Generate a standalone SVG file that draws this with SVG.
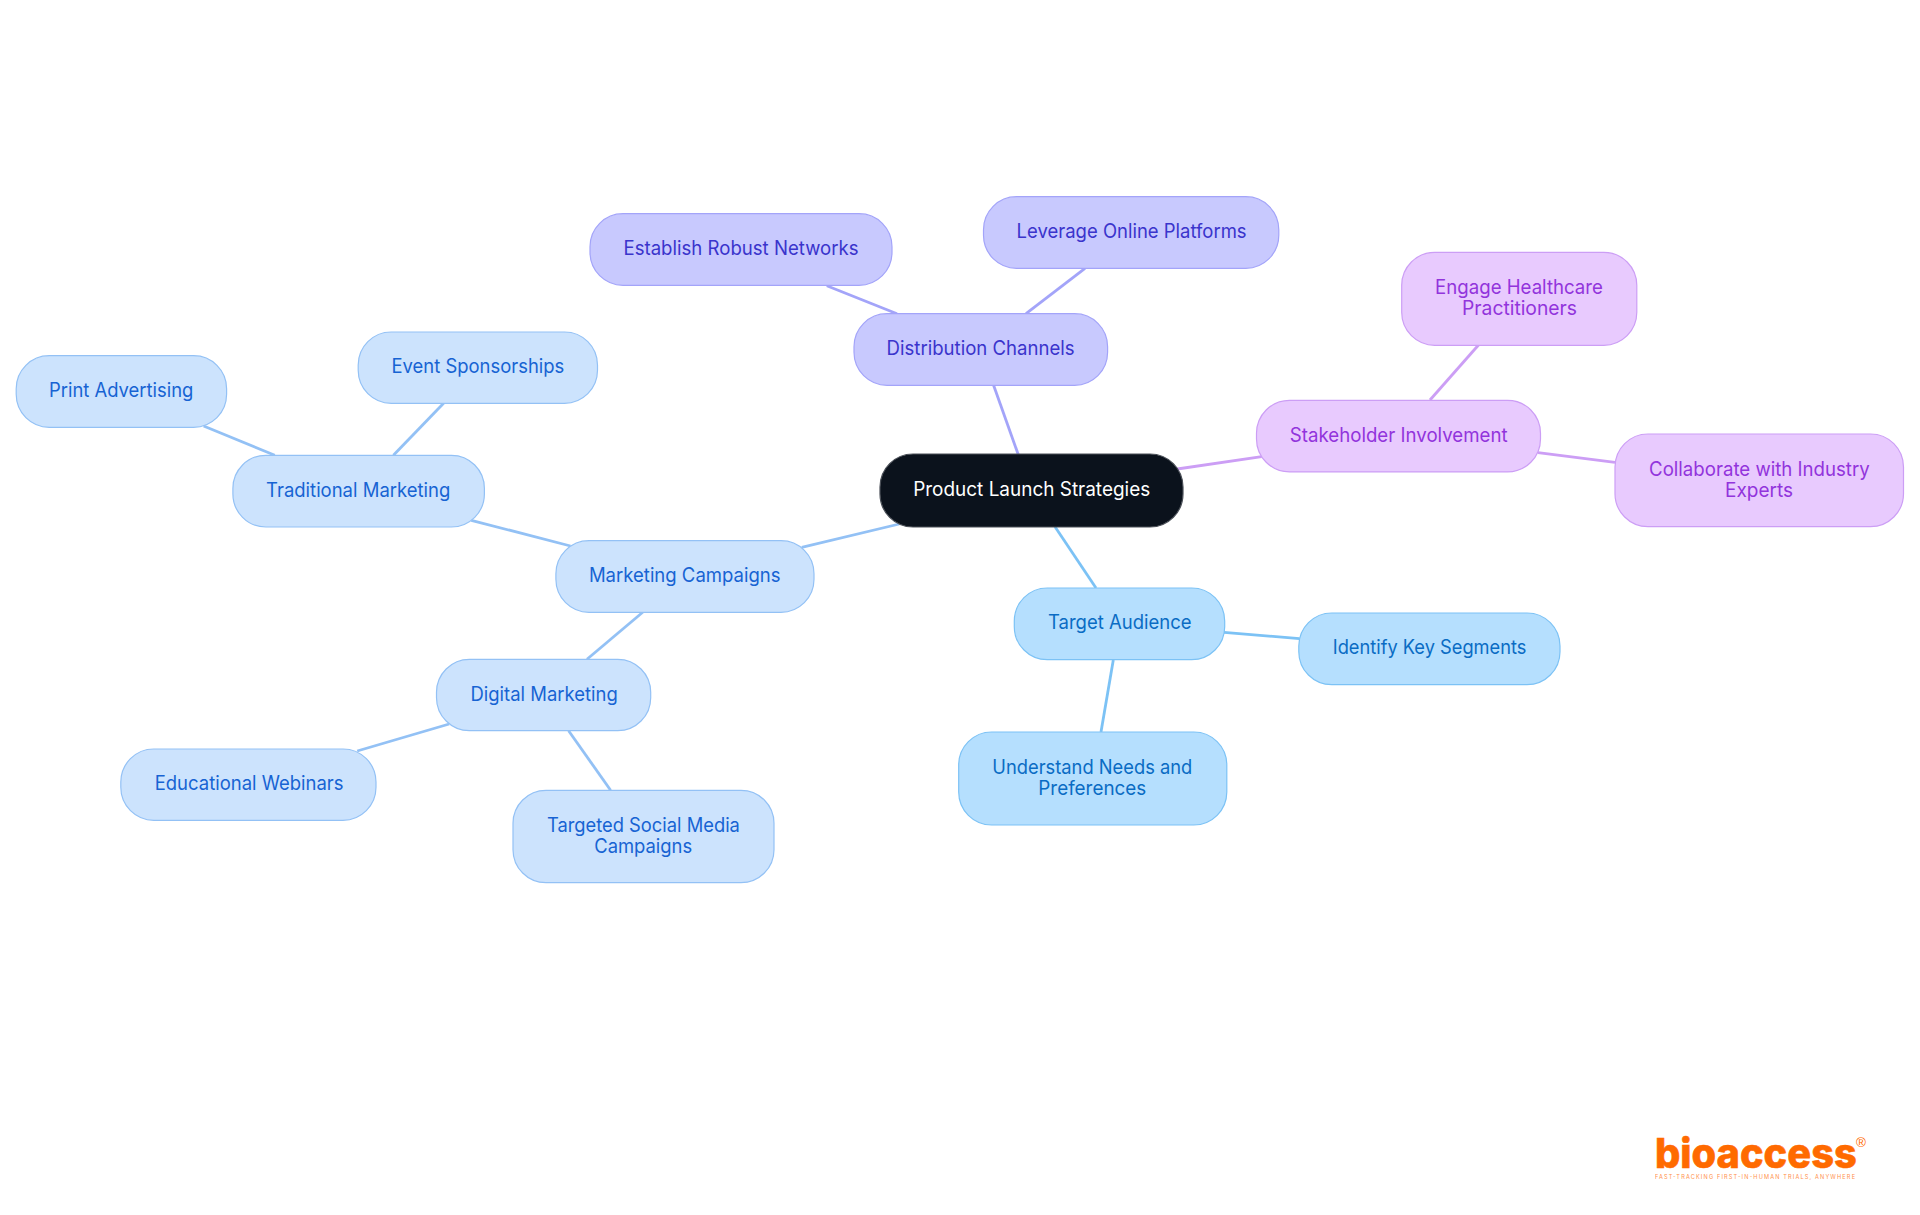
<svg xmlns="http://www.w3.org/2000/svg" width="1920" height="1215" viewBox="0 0 1920 1215">
<style>
text{font-family:"Inter","Noto Sans","Liberation Sans",sans-serif;font-size:19.6px;font-weight:400;text-anchor:middle}
rect{stroke-width:1.2}
#connectors line{stroke-width:2.8;fill:none}
.root rect{fill:#0b121c;stroke:#4a4f57}.root text{fill:#fff}
.mk rect{fill:#cce3fd;stroke:#93c1f5}.mk text{fill:#1763d3}
.ta rect{fill:#b5dffe;stroke:#7cc2f5}.ta text{fill:#0a6cc4}
.di rect{fill:#c8c9fe;stroke:#a3a4f9}.di text{fill:#3a34cc}
.st rect{fill:#e8cafe;stroke:#cc9ef5}.st text{fill:#9234dc}
line.mk{stroke:#93c1f5}line.ta{stroke:#7cc2f5}line.di{stroke:#a3a4f9}line.st{stroke:#cc9ef5}
#logo text{fill:#ff6a00;text-anchor:start}
</style>
<rect x="0" y="0" width="1920" height="1215" fill="#fff" style="stroke:none"/>
<g id="connectors">
<line class="di" x1="993.5" y1="385" x2="1018.4" y2="455"/>
<line class="di" x1="826.8" y1="285.7" x2="897" y2="313.7"/>
<line class="di" x1="1085" y1="268.3" x2="1026" y2="313.7"/>
<line class="st" x1="1177.3" y1="469" x2="1261.7" y2="456.7"/>
<line class="st" x1="1478.5" y1="345" x2="1430" y2="400"/>
<line class="st" x1="1538" y1="452.7" x2="1615" y2="462.3"/>
<line class="ta" x1="1055" y1="526.7" x2="1096" y2="588"/>
<line class="ta" x1="1224" y1="632.3" x2="1299.5" y2="638.7"/>
<line class="ta" x1="1113.3" y1="660" x2="1101" y2="732"/>
<line class="mk" x1="899.3" y1="524" x2="801.7" y2="547.3"/>
<line class="mk" x1="570.5" y1="546" x2="471.3" y2="520.3"/>
<line class="mk" x1="203.6" y1="426" x2="274.8" y2="455.3"/>
<line class="mk" x1="443.6" y1="403.3" x2="393.4" y2="455.3"/>
<line class="mk" x1="642.7" y1="612.3" x2="587" y2="659.3"/>
<line class="mk" x1="449.2" y1="724" x2="357.2" y2="751"/>
<line class="mk" x1="568.6" y1="730.7" x2="610.6" y2="790.3"/>
</g>
<g id="root" class="root"><rect x="880" y="454" width="303" height="73" rx="33"/><text x="1031.7" y="496" textLength="237" lengthAdjust="spacingAndGlyphs">Product Launch Strategies</text></g>
<g id="distribution-channels" class="di"><rect x="854" y="313.7" width="253.6" height="71.6" rx="33"/><text x="980.6" y="355" textLength="188" lengthAdjust="spacingAndGlyphs">Distribution Channels</text></g>
<g id="establish-robust-networks" class="di"><rect x="590" y="213.7" width="302" height="71.6" rx="33"/><text x="741" y="255" textLength="235" lengthAdjust="spacingAndGlyphs">Establish Robust Networks</text></g>
<g id="leverage-online-platforms" class="di"><rect x="983.5" y="196.7" width="295.3" height="71.6" rx="33"/><text x="1131.6" y="238" textLength="230" lengthAdjust="spacingAndGlyphs">Leverage Online Platforms</text></g>
<g id="stakeholder-involvement" class="st"><rect x="1256.5" y="400.3" width="284" height="71.6" rx="33"/><text x="1398.7" y="441.6" textLength="217.7" lengthAdjust="spacingAndGlyphs">Stakeholder Involvement</text></g>
<g id="engage-healthcare" class="st"><rect x="1401.7" y="252.3" width="235.1" height="93" rx="33"/><text x="1519" y="294" textLength="167.8" lengthAdjust="spacingAndGlyphs">Engage Healthcare</text><text x="1519.5" y="315" textLength="115" lengthAdjust="spacingAndGlyphs">Practitioners</text></g>
<g id="collaborate-experts" class="st"><rect x="1615" y="434" width="288.5" height="92.7" rx="33"/><text x="1759.4" y="475.5" textLength="220.7" lengthAdjust="spacingAndGlyphs">Collaborate with Industry</text><text x="1759" y="497" textLength="68" lengthAdjust="spacingAndGlyphs">Experts</text></g>
<g id="target-audience" class="ta"><rect x="1014.3" y="588" width="210.4" height="71.7" rx="33"/><text x="1119.8" y="629.3" textLength="143.7" lengthAdjust="spacingAndGlyphs">Target Audience</text></g>
<g id="identify-key-segments" class="ta"><rect x="1298.8" y="613" width="261.2" height="71.7" rx="33"/><text x="1429.6" y="654.3" textLength="193.7" lengthAdjust="spacingAndGlyphs">Identify Key Segments</text></g>
<g id="understand-needs" class="ta"><rect x="958.7" y="732" width="268.1" height="93" rx="33"/><text x="1092.3" y="773.5" textLength="200" lengthAdjust="spacingAndGlyphs">Understand Needs and</text><text x="1092.3" y="794.5" textLength="108" lengthAdjust="spacingAndGlyphs">Preferences</text></g>
<g id="marketing-campaigns" class="mk"><rect x="555.9" y="540.7" width="258.1" height="71.6" rx="33"/><text x="684.7" y="582" textLength="191.6" lengthAdjust="spacingAndGlyphs">Marketing Campaigns</text></g>
<g id="traditional-marketing" class="mk"><rect x="232.9" y="455.3" width="251.5" height="71.7" rx="33"/><text x="358.2" y="496.6" textLength="184.3" lengthAdjust="spacingAndGlyphs">Traditional Marketing</text></g>
<g id="print-advertising" class="mk"><rect x="16.2" y="355.7" width="210.4" height="71.6" rx="33"/><text x="121.2" y="397" textLength="144.4" lengthAdjust="spacingAndGlyphs">Print Advertising</text></g>
<g id="event-sponsorships" class="mk"><rect x="358.2" y="332" width="239.3" height="71.3" rx="33"/><text x="477.9" y="373" textLength="172.8" lengthAdjust="spacingAndGlyphs">Event Sponsorships</text></g>
<g id="digital-marketing" class="mk"><rect x="436.5" y="659.3" width="214.2" height="71.4" rx="33"/><text x="544.1" y="700.5" textLength="147.2" lengthAdjust="spacingAndGlyphs">Digital Marketing</text></g>
<g id="educational-webinars" class="mk"><rect x="120.8" y="749" width="255.2" height="71.3" rx="33"/><text x="249.1" y="790" textLength="188.8" lengthAdjust="spacingAndGlyphs">Educational Webinars</text></g>
<g id="targeted-social-media" class="mk"><rect x="513" y="790.3" width="261" height="92.4" rx="33"/><text x="643.4" y="831.5" textLength="193" lengthAdjust="spacingAndGlyphs">Targeted Social Media</text><text x="643.2" y="853" textLength="98" lengthAdjust="spacingAndGlyphs">Campaigns</text></g>
<g id="logo">
<text x="1655" y="1167.7" style="font-size:41px;font-weight:800;stroke:#ff6a00;stroke-width:.6" textLength="201.7" lengthAdjust="spacingAndGlyphs">bioaccess</text>
<text x="1856" y="1147" style="font-size:13.5px;font-weight:400;font-family:'Liberation Sans',sans-serif">®</text>
<text x="1655" y="1178.7" style="font-size:5.6px;font-weight:400;opacity:.75" textLength="200" lengthAdjust="spacing">FAST-TRACKING FIRST-IN-HUMAN TRIALS, ANYWHERE</text>
</g>
</svg>
